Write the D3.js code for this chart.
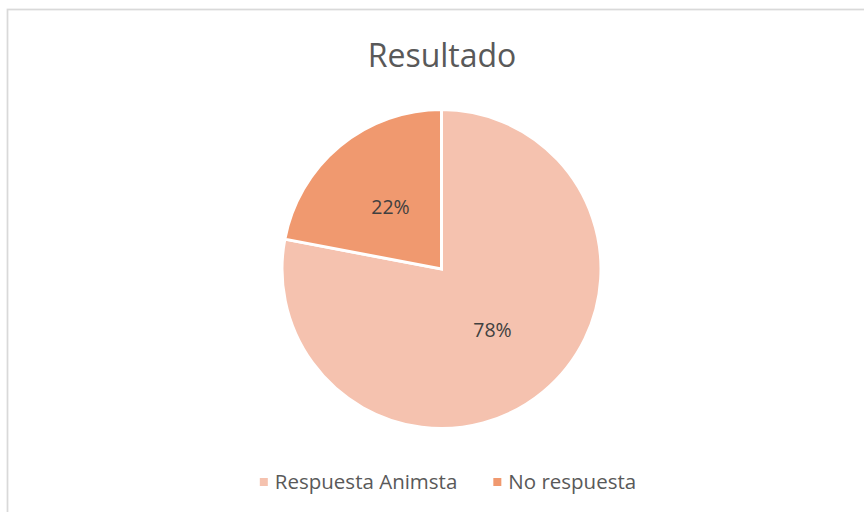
<!DOCTYPE html>
<html>
<head>
<meta charset="utf-8">
<script src="https://cdn.jsdelivr.net/npm/d3@7"></script>
<style>
  html, body { margin: 0; padding: 0; background: #fff; }
  svg { display: block; font-family: "Open Sans", "Noto Sans", sans-serif; }
</style>
</head>
<body>
<svg id="chart" width="864" height="512"></svg>
<script>
const title = "Resultado";
const categories = ["Respuesta Animsta", "No respuesta"];
const values = [78, 22];
const colors = ["#F5C2AF", "#F0996F"];

const svg = d3.select("#chart");
const W = 864, H = 512;

// chart frame
svg.append("rect")
  .attr("x", 7.5).attr("y", 9.5)
  .attr("width", W + 20).attr("height", H + 20)
  .attr("fill", "#fff")
  .attr("stroke", "#d9d9d9").attr("stroke-width", 1.75);

// title
svg.append("text")
  .attr("x", 442).attr("y", 67)
  .attr("text-anchor", "middle")
  .attr("font-size", 32)
  .attr("fill", "#595959")
  .text(title);

// pie
const cx = 441.5, cy = 269, R = 159.5;
const pie = d3.pie().sort(null).value(d => d)(values);
const arc = d3.arc().innerRadius(0).outerRadius(R);
const labelR = 80;
const g = svg.append("g").attr("transform", `translate(${cx},${cy})`);

g.selectAll("path.slice").data(pie).join("path")
  .attr("class", "slice")
  .attr("d", arc)
  .attr("fill", (d, i) => colors[i])
  .attr("stroke", "#fff")
  .attr("stroke-width", 3)
  .attr("stroke-linejoin", "miter");

const total = d3.sum(values);
g.selectAll("text.lbl").data(pie).join("text")
  .attr("class", "lbl")
  .attr("transform", d => {
    const a = (d.startAngle + d.endAngle) / 2;
    return `translate(${Math.sin(a) * labelR},${-Math.cos(a) * labelR})`;
  })
  .attr("text-anchor", "middle")
  .attr("dy", "0.35em")
  .attr("font-size", 19.5)
  .attr("fill", "#404040")
  .text(d => Math.round(d.value / total * 100) + "%");

// legend
const legend = svg.append("g");
const items = legend.selectAll("g.item").data(categories).join("g").attr("class", "item");
items.append("rect")
  .attr("width", 8).attr("height", 8)
  .attr("y", -4)
  .attr("fill", (d, i) => colors[i]);
items.append("text")
  .attr("x", 15)
  .attr("dy", "0.35em")
  .attr("font-size", 20.5)
  .attr("fill", "#595959")
  .text(d => d);

let x = 0;
const gap = 36;
items.each(function() {
  const w = 15 + this.querySelector("text").getComputedTextLength();
  d3.select(this).attr("transform", `translate(${x},0)`);
  x += w + gap;
});
const totalW = x - gap;
legend.attr("transform", `translate(${448 - totalW / 2},482)`);
</script>
</body>
</html>
